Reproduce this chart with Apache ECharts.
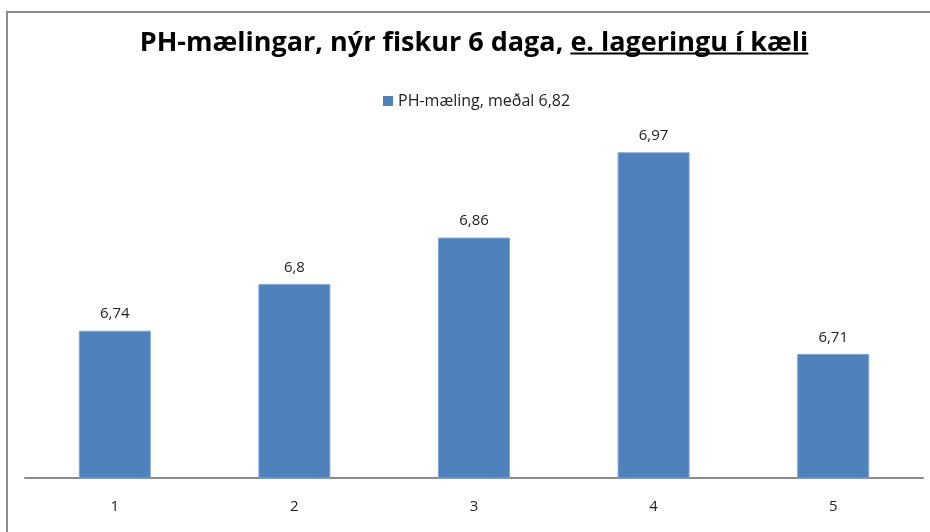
<!DOCTYPE html>
<html>
<head>
<meta charset="utf-8">
<script src="https://cdn.jsdelivr.net/npm/echarts@6/dist/echarts.min.js"></script>
<style>
  html, body { margin: 0; padding: 0; background: #fff; }
  #main { width: 930px; height: 532px; }
</style>
</head>
<body>
<div id="main"></div>
<script>
  // gögn
  var categories = ['1', '2', '3', '4', '5'];
  var phValues = [6.74, 6.8, 6.86, 6.97, 6.71];
  var seriesName = 'PH-mæling, meðal 6,82';
  var titlePlain = 'PH-mælingar, nýr fiskur 6 daga, ';
  var titleUnderlined = 'e. lageringu í kæli';

  var titleFont = 'bold 27px "Open Sans", sans-serif';
  var bodyFont = '"Open Sans", sans-serif';

  // mæla breidd titils fyrir undirstrikun
  var ctx = document.createElement('canvas').getContext('2d');
  ctx.font = titleFont;
  var wPlain = ctx.measureText(titlePlain).width;
  var wUnder = ctx.measureText(titleUnderlined).width;
  var titleLeft = 474 - (wPlain + wUnder) / 2;

  var myChart = echarts.init(document.getElementById('main'));
  var option = {
    backgroundColor: '#fff',
    animation: false,
    title: {
      text: '{a|' + titlePlain + '}{a|' + titleUnderlined + '}',
      left: titleLeft,
      top: 28,
      padding: 0,
      textStyle: {
        rich: {
          a: {
            fontFamily: '"Open Sans", sans-serif',
            fontWeight: 'bold',
            fontSize: 27,
            color: '#000',
            lineHeight: 30
          }
        }
      }
    },
    legend: {
      data: [seriesName],
      top: 88,
      left: 378,
      icon: 'rect',
      itemWidth: 10,
      itemHeight: 10,
      itemGap: 5,
      itemStyle: { borderWidth: 0 },
      textStyle: {
        fontFamily: bodyFont,
        fontSize: 16,
        color: '#222'
      }
    },
    grid: {
      left: 25,
      right: 7,
      top: 129,
      bottom: 54,
      containLabel: false
    },
    xAxis: {
      type: 'category',
      data: categories,
      axisLine: {
        show: true,
        lineStyle: { color: '#8c8c8c', width: 2 }
      },
      axisTick: { show: false },
      axisLabel: {
        margin: 21,
        fontFamily: bodyFont,
        fontSize: 15,
        color: '#222'
      }
    },
    yAxis: {
      type: 'value',
      min: 6.55,
      max: 7.0,
      show: false,
      splitLine: { show: false }
    },
    series: [
      {
        name: seriesName,
        type: 'bar',
        data: phValues,
        barWidth: 72,
        itemStyle: {
          color: '#4f81bd',
          borderColor: '#7ea6d6',
          borderWidth: 1
        },
        label: {
          show: true,
          position: 'top',
          distance: 9,
          fontFamily: bodyFont,
          fontSize: 15,
          color: '#222',
          formatter: function (p) {
            return String(p.value).replace('.', ',');
          }
        }
      }
    ],
    graphic: [
      {
        // rammi
        type: 'polyline',
        shape: { points: [[7, 540], [7, 12], [940, 12]] },
        style: { stroke: '#8c8c8c', lineWidth: 2, fill: null },
        silent: true
      },
      {
        // undirstrikun
        type: 'line',
        shape: {
          x1: titleLeft + wPlain, y1: 53.5,
          x2: titleLeft + wPlain + wUnder, y2: 53.5
        },
        style: { stroke: '#000', lineWidth: 2 },
        silent: true
      }
    ]
  };
  myChart.setOption(option);
</script>
</body>
</html>
